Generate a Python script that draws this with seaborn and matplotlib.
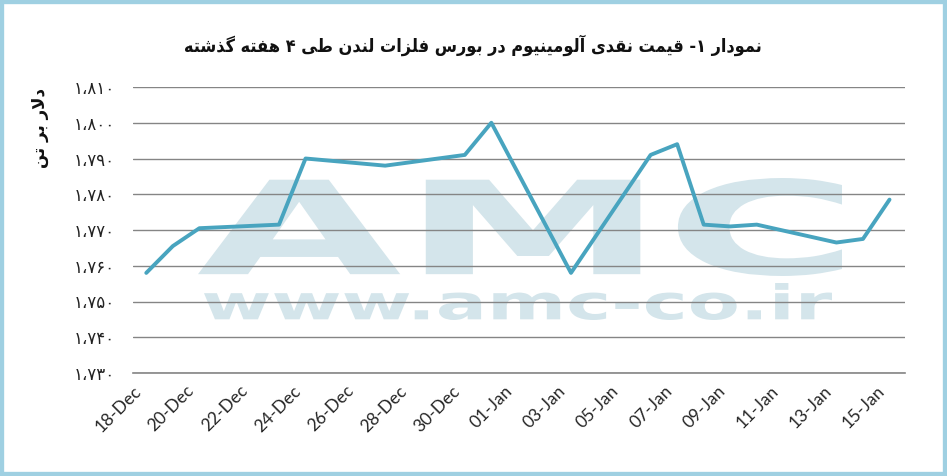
import pandas as pd
import matplotlib
matplotlib.use("Agg")
import matplotlib.pyplot as plt
from matplotlib.ticker import FuncFormatter
from matplotlib.textpath import TextPath
from matplotlib.patches import PathPatch, Rectangle
from matplotlib.font_manager import FontProperties
from matplotlib.transforms import Affine2D, IdentityTransform, ScaledTranslation
import seaborn as sns

# data (USD per tonne, LME cash aluminium)
dates = ["2013-12-18", "2013-12-19", "2013-12-20", "2013-12-23", "2013-12-24",
         "2013-12-27", "2013-12-30", "2013-12-31", "2014-01-03", "2014-01-06",
         "2014-01-07", "2014-01-08", "2014-01-09", "2014-01-10", "2014-01-13",
         "2014-01-14", "2014-01-15"]
prices = [1758, 1765.5, 1770.5, 1771.5, 1790, 1788, 1791, 1800, 1758, 1791,
          1794, 1771.5, 1771, 1771.5, 1766.5, 1767.5, 1778.5]
y_ticks = [1730, 1740, 1750, 1760, 1770, 1780, 1790, 1800, 1810]
title_text = "نمودار ۱- قیمت نقدی آلومینیوم در بورس فلزات لندن طی ۴ هفته گذشته"
ylabel_text = "دلار بر تن"

# --- tiny persian shaper (matplotlib has no bidi / joining) ---
FORMS = {
    "ا": ("\uFE8D", "\uFE8E", None, None), "آ": ("\uFE81", "\uFE82", None, None),
    "ب": ("\uFE8F", "\uFE90", "\uFE91", "\uFE92"), "ت": ("\uFE95", "\uFE96", "\uFE97", "\uFE98"),
    "د": ("\uFEA9", "\uFEAA", None, None), "ذ": ("\uFEAB", "\uFEAC", None, None),
    "ر": ("\uFEAD", "\uFEAE", None, None), "ز": ("\uFEAF", "\uFEB0", None, None),
    "س": ("\uFEB1", "\uFEB2", "\uFEB3", "\uFEB4"), "ش": ("\uFEB5", "\uFEB6", "\uFEB7", "\uFEB8"),
    "ط": ("\uFEC1", "\uFEC2", "\uFEC3", "\uFEC4"), "ف": ("\uFED1", "\uFED2", "\uFED3", "\uFED4"),
    "ق": ("\uFED5", "\uFED6", "\uFED7", "\uFED8"), "ل": ("\uFEDD", "\uFEDE", "\uFEDF", "\uFEE0"),
    "م": ("\uFEE1", "\uFEE2", "\uFEE3", "\uFEE4"), "ن": ("\uFEE5", "\uFEE6", "\uFEE7", "\uFEE8"),
    "ه": ("\uFEE9", "\uFEEA", "\uFEEB", "\uFEEC"), "و": ("\uFEED", "\uFEEE", None, None),
    "ی": ("\uFEEF", "\uFEF0", "\uFEF3", "\uFEF4"), "گ": ("\uFB92", "\uFB93", "\uFB94", "\uFB95"),
}


def dual(c):
    return c in FORMS and FORMS[c][2] is not None


def shape(text):
    toks = []
    i = 0
    while i < len(text):
        if text[i] == "ل" and i + 1 < len(text) and text[i + 1] in "اآ":
            toks.append(("LA", text[i + 1]))
            i += 2
        else:
            toks.append((text[i], None))
            i += 1
    res = []
    for k, (c, a) in enumerate(toks):
        prev = toks[k - 1][0] if k > 0 else None
        nxt = toks[k + 1][0] if k + 1 < len(toks) else None
        jp = prev is not None and dual(prev)
        if c == "LA":
            if a == "ا":
                res.append("\uFEFC" if jp else "\uFEFB")
            else:
                res.append("\uFEF6" if jp else "\uFEF5")
        elif c in FORMS:
            f = FORMS[c]
            jn = f[2] is not None and nxt is not None and (nxt in FORMS or nxt == "LA")
            if jp and jn:
                res.append(f[3])
            elif jp:
                res.append(f[1])
            elif jn:
                res.append(f[2])
            else:
                res.append(f[0])
        else:
            res.append(c)
    return "".join(reversed(res))


def fa_num(v, pos=None):
    s = f"{int(v):,}"
    return s.translate(str.maketrans("0123456789,", "۰۱۲۳۴۵۶۷۸۹،"))


df = pd.DataFrame({"date": pd.to_datetime(dates), "price": prices})

sns.set_style("white")
plt.rcParams["font.family"] = ["DejaVu Sans"]

fig = plt.figure(figsize=(9.47, 4.76), dpi=100)
ax = fig.add_axes([133 / 947, 1 - 373 / 476, (905 - 133) / 947, (373 - 87) / 476])
ax.set_axisbelow("line")

sns.lineplot(data=df, x="date", y="price", ax=ax, color="#48a4bf", linewidth=2.8, zorder=3)

ax.set_ylim(1730, 1810)
ax.set_yticks(y_ticks)
ax.yaxis.set_major_formatter(FuncFormatter(fa_num))
ax.yaxis.grid(True, color="#858585", linewidth=1.0)
ax.tick_params(axis="y", length=0, pad=13, labelsize=12, labelcolor="#222222")

day = pd.Timedelta(hours=12)
ax.set_xlim(df["date"].iloc[0] - day, df["date"].iloc[-1] + pd.Timedelta(hours=14))
tick_days = pd.date_range("2013-12-18", "2014-01-15", freq="2D")
ax.set_xticks(tick_days - day)
ax.set_xticklabels([d.strftime("%d-%b") for d in tick_days], rotation=45,
                   ha="right", rotation_mode="anchor", fontfamily="Lato", fontsize=12.5)
shift = ScaledTranslation(0.08, 0, fig.dpi_scale_trans)
for lab in ax.get_xticklabels():
    lab.set_transform(lab.get_transform() + shift)
ax.tick_params(axis="x", direction="out", length=5, width=1, color="#858585", pad=2)
ax.set_xlabel("")
ax.set_ylabel("")
for s in ["top", "right", "left"]:
    ax.spines[s].set_visible(False)
ax.spines["bottom"].set_color("#858585")
ax.spines["bottom"].set_linewidth(1.2)


# watermark, placed in pixel coords of the 947x476 canvas
def watermark(txt, x0, y0, x1, y1, weight="bold"):
    tp = TextPath((0, 0), txt, size=100, prop=FontProperties(family="DejaVu Sans", weight=weight))
    bb = tp.get_extents()
    tr = (Affine2D().translate(-bb.x0, -bb.y0)
          .scale((x1 - x0) / bb.width, (y1 - y0) / bb.height)
          .translate(x0, 476 - y1))
    ax.add_patch(PathPatch(tr.transform_path(tp), facecolor="#d4e5eb", edgecolor="none",
                           transform=IdentityTransform(), zorder=1, clip_on=False))


watermark("AMC", 198, 178, 842, 276)
watermark("www.amc-co.ir", 204, 283, 832, 320)

fig.text(473 / 947, 1 - 45 / 476, shape(title_text), ha="center", va="center",
         fontsize=13, fontweight="bold", fontstretch="condensed", color="#111111")
fig.text(40 / 947, 1 - 128 / 476, shape(ylabel_text), ha="center", va="center",
         rotation=90, fontsize=12, fontweight="bold", color="#111111")

fig.add_artist(Rectangle((0, 0), 1, 1, transform=fig.transFigure, fill=False,
                         edgecolor="#9fd0e2", linewidth=6))

fig.savefig("out.png", dpi=100)
